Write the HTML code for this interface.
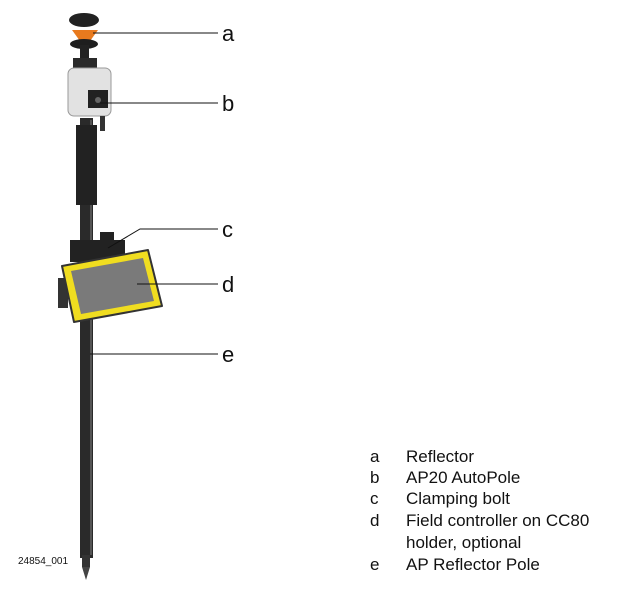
<!DOCTYPE html>
<html><head><style>
body{margin:0;background:#fff;width:630px;height:593px;overflow:hidden;font-family:"Liberation Sans",sans-serif}
</style></head><body>
<svg width="630" height="593" xmlns="http://www.w3.org/2000/svg">
<!-- pole -->
<rect x="80" y="118" width="13" height="440" fill="#2a2a2a"/>
<rect x="90" y="120" width="2" height="435" fill="#555"/>
<rect x="76" y="125" width="21" height="80" fill="#222"/>
<rect x="82" y="555" width="8" height="12" fill="#333"/>
<polygon points="82,567 90,567 86,580" fill="#444"/>
<!-- reflector -->
<ellipse cx="84" cy="20" rx="15" ry="7" fill="#222"/>
<polygon points="72,30 98,30 85,48" fill="#e87a1e"/>
<ellipse cx="84" cy="44" rx="14" ry="5" fill="#1e1e1e"/>
<rect x="80" y="45" width="9" height="22" fill="#222"/>
<rect x="73" y="58" width="24" height="12" fill="#2a2a2a"/>
<!-- autopole -->
<rect x="68" y="68" width="43" height="48" rx="6" fill="#e2e2e2" stroke="#999"/>
<rect x="88" y="90" width="20" height="18" fill="#222"/>
<circle cx="98" cy="100" r="3" fill="#666"/>
<rect x="100" y="116" width="5" height="15" fill="#333"/>
<!-- holder -->
<rect x="70" y="240" width="55" height="22" fill="#222"/>
<rect x="100" y="232" width="14" height="14" fill="#222"/>
<rect x="58" y="278" width="10" height="30" fill="#333"/>
<!-- controller -->
<polygon points="62,266 148,250 162,306 74,322" fill="#f0dd20" stroke="#333" stroke-width="2" stroke-linejoin="round"/>
<polygon points="71,271 143,258 154,301 81,314" fill="#7a7a7a"/>
<!-- leader lines -->
<g stroke="#111" stroke-width="1" fill="none">
<line x1="93" y1="33" x2="218" y2="33"/>
<line x1="100" y1="103" x2="218" y2="103"/>
<polyline points="108,248 140,229 218,229"/>
<line x1="137" y1="284" x2="218" y2="284"/>
<line x1="90" y1="354" x2="218" y2="354"/>
</g>
<g font-size="22" fill="#111">
<text x="222" y="41">a</text>
<text x="222" y="111">b</text>
<text x="222" y="237">c</text>
<text x="222" y="292">d</text>
<text x="222" y="362">e</text>
</g>
<text x="18" y="564" font-size="10" fill="#111">24854_001</text>
<g font-size="17" fill="#111">
<text x="370" y="462">a</text><text x="406" y="462">Reflector</text>
<text x="370" y="483">b</text><text x="406" y="483">AP20 AutoPole</text>
<text x="370" y="504">c</text><text x="406" y="504">Clamping bolt</text>
<text x="370" y="526">d</text><text x="406" y="526">Field controller on CC80</text>
<text x="406" y="548">holder, optional</text>
<text x="370" y="570">e</text><text x="406" y="570">AP Reflector Pole</text>
</g>
</svg>
</body></html>
